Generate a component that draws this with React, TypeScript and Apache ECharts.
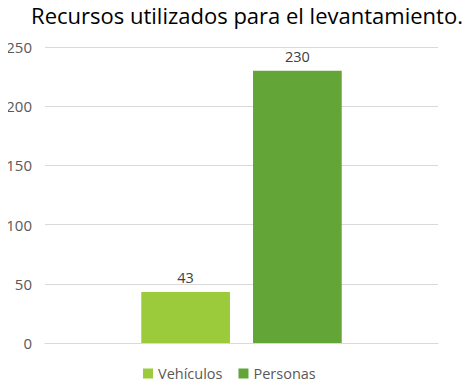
import React, { useEffect, useRef } from "react";
import * as echarts from "echarts";

const titleText = "Recursos utilizados para el levantamiento.";
const categories = [""];
const seriesNames = ["Vehículos", "Personas"];
const vehiculos = [43];
const personas = [230];
const colors = ["#9BCB3B", "#63A537"];

export default function App() {
  const ref = useRef<HTMLDivElement>(null);
  useEffect(() => {
    if (!ref.current) return;
    const chart = echarts.init(ref.current, null, { renderer: "svg" });
    const font = "Open Sans";
    const labelStyle = { show: true, position: "top", distance: 7, fontFamily: font, fontSize: 14.5, color: "#404040" };
    chart.setOption({
      animation: false,
      graphic: [
        {
          type: "text",
          x: 247,
          y: 4,
          style: {
            text: titleText,
            textAlign: "center",
            textVerticalAlign: "top",
            fontFamily: font,
            fontSize: 22,
            fill: "#000",
          },
        },
      ],
      legend: {
        bottom: 1,
        left: 138,
        itemWidth: 10,
        itemHeight: 10,
        itemGap: 16,
        icon: "rect",
        textStyle: { fontFamily: font, fontSize: 14.5, color: "#595959" },
        data: seriesNames,
      },
      grid: { left: 45, right: 32, top: 47, bottom: 44 },
      xAxis: {
        type: "category",
        data: categories,
        axisLine: { show: true, lineStyle: { color: "#d9d9d9" } },
        axisTick: { show: false },
        axisLabel: { show: false },
      },
      yAxis: {
        type: "value",
        min: 0,
        max: 250,
        interval: 50,
        axisLine: { show: false },
        axisTick: { show: false },
        splitLine: { lineStyle: { color: "#d9d9d9" } },
        axisLabel: { fontFamily: font, fontSize: 15, color: "#595959", margin: 13 },
      },
      series: [
        {
          name: seriesNames[0],
          type: "bar",
          data: vehiculos,
          itemStyle: { color: colors[0] },
          barGap: "26%",
          barCategoryGap: "49%",
          label: labelStyle,
        },
        {
          name: seriesNames[1],
          type: "bar",
          data: personas,
          itemStyle: { color: colors[1] },
          barGap: "26%",
          barCategoryGap: "49%",
          label: labelStyle,
        },
      ],
    });
    return () => chart.dispose();
  }, []);
  return <div ref={ref} style={{ width: 470, height: 387, margin: -8 }} />;
}
